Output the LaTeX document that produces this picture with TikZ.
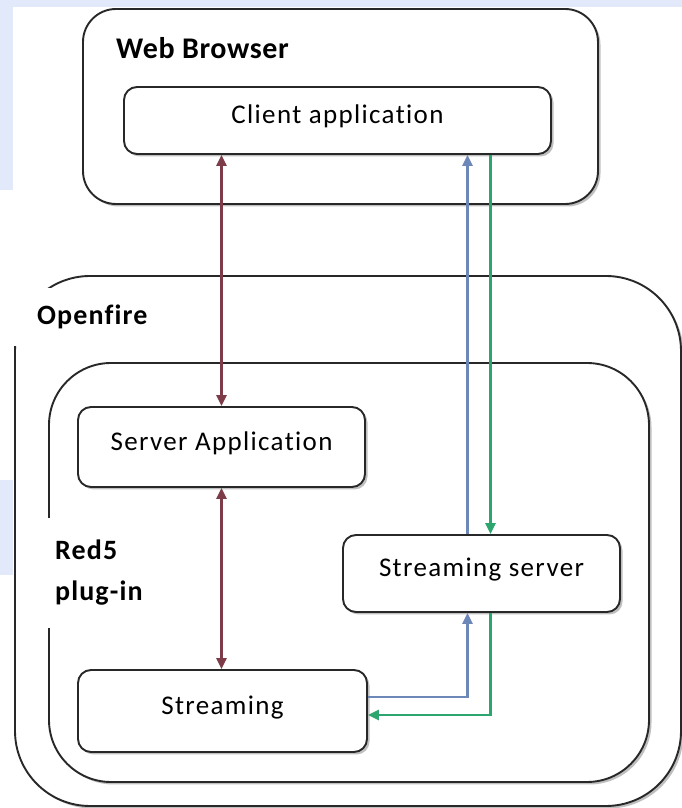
\documentclass[tikz,border=0pt]{standalone}
\usepackage{fontspec}
\setmainfont[Ligatures=NoCommon]{Carlito}
\usetikzlibrary{arrows.meta,shadows,positioning}

\definecolor{linkred}{RGB}{125,60,72}
\definecolor{linkblue}{RGB}{110,135,185}
\definecolor{linkgreen}{RGB}{45,165,110}
\definecolor{wmark}{RGB}{226,233,250}
\definecolor{frameline}{RGB}{40,40,40}

\tikzset{
  frame/.style={draw=frameline, line width=1.9pt, fill=white,
    drop shadow={shadow xshift=2.5pt, shadow yshift=-2.5pt, opacity=0.5}},
  appbox/.style={frame, rounded corners=13pt, inner sep=0pt, text height=20pt, text depth=13pt,
    font=\fontsize{27}{30}\selectfont\addfontfeatures{LetterSpace=5}},
  tag/.style={fill=white, inner sep=0pt,
    font=\bfseries\fontsize{28}{41}\selectfont\addfontfeatures{LetterSpace=4}},
  link/.style={line width=2.8pt},
}

\begin{document}
\begin{tikzpicture}[x=1pt, y=1pt, >={Triangle[length=11pt,width=10pt]}]
    \useasboundingbox (0,0) rectangle (682,808);

    % fundo azulado (marca d'agua)
    \fill[wmark] (0,808) rectangle (682,801);
    \fill[wmark] (0,808) rectangle (13,618);
    \fill[wmark] (0,328) rectangle (13,233);

    % caixas grandes
    \node[frame, rounded corners=75pt, minimum width=666pt, minimum height=530pt] (openfire) at (348,267) {};
    \node[tag, anchor=base west, inner xsep=24pt, inner ysep=17pt] (openfirelbl) at (13,483) {Openfire};

    \node[frame, rounded corners=62pt, minimum width=600pt, minimum height=419pt] (red5) at (349,235.5) {};
    \node[tag, anchor=west, align=left, inner xsep=10pt, inner ysep=22pt] (red5lbl) at (45,235) {Red5\\plug-in};

    \node[frame, rounded corners=33pt, minimum width=515pt, minimum height=195pt] (browser) at (340.5,701.5) {};
    \node[anchor=base west, inner sep=0pt,
      font=\bfseries\fontsize{30}{34}\selectfont\addfontfeatures{LetterSpace=2}] (browserlbl) at (116,749) {Web Browser};

    % aplicacoes
    \node[appbox, minimum width=427pt, minimum height=67pt] (client)    at (337.5,687.5) {Client application};
    \node[appbox, minimum width=287pt, minimum height=80pt] (serverapp) at (221.5,361)   {Server Application};
    \node[appbox, minimum width=277pt, minimum height=77pt] (sserver)   at (481.5,234.5) {Streaming server};
    \node[appbox, minimum width=289pt, minimum height=82pt] (streaming) at (222.5,97)    {Streaming};

    % ligacoes vermelhas (ida e volta)
    \draw[link, linkred, <->] (client.south -| serverapp.north) -- (serverapp.north);
    \draw[link, linkred, <->] (serverapp.south) -- (streaming.north -| serverapp.south);

    % fluxo azul: Streaming -> Streaming server -> Client
    \draw[link, linkblue, ->] ([yshift=14pt]streaming.east) -| ([xshift=-14pt]sserver.south);
    \draw[link, linkblue, ->] ([xshift=-14pt]sserver.north) -- ([xshift=-14pt]sserver.north |- client.south);

    % fluxo verde: Client -> Streaming server -> Streaming
    \draw[link, linkgreen, ->] ([xshift=9pt]sserver.north |- client.south) -- ([xshift=9pt]sserver.north);
    \draw[link, linkgreen, ->] ([xshift=9pt]sserver.south) |- ([yshift=-4pt]streaming.east);
\end{tikzpicture}
\end{document}
